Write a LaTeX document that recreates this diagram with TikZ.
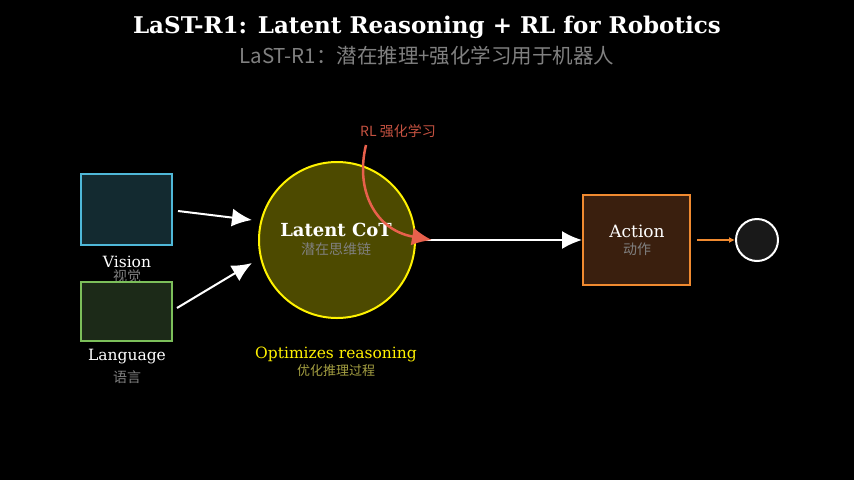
\documentclass[tikz,border=0pt]{standalone}
\usepackage{fontspec}
\usetikzlibrary{arrows.meta}
\setmainfont{DejaVu Serif}
\newfontfamily\cjk{Noto Sans CJK SC}
\definecolor{visfill}{HTML}{132A30}
\definecolor{visdraw}{HTML}{4FB8D8}
\definecolor{lanfill}{HTML}{1C2A18}
\definecolor{landraw}{HTML}{7CBF5A}
\definecolor{cotfill}{HTML}{4D4A00}
\definecolor{actfill}{HTML}{3A1F0E}
\definecolor{actdraw}{HTML}{F08A30}
\definecolor{rlred}{HTML}{E8604C}
\tikzset{
  box/.style={rectangle, line width=2pt, inner sep=0pt, anchor=center},
  annot/.style={align=center, text=white, font=\fontsize{15.5}{17}\selectfont},
  sub/.style={align=center, text=gray, font=\cjk\fontsize{14}{16}\selectfont},
  flow/.style={draw=white, line width=2pt, -{Latex[length=20pt,width=18pt]}}
}
\begin{document}
\begin{tikzpicture}[x=1pt,y=-1pt]
	\fill[black] (0,0) rectangle (854,480);
	\useasboundingbox (0,0) rectangle (854,480);

	\node[annot, font=\bfseries\fontsize{23}{25}\selectfont] (title) at (427,27) {LaST-R1: Latent Reasoning + RL for Robotics};
	\node[sub, font=\cjk\fontsize{20.5}{22}\selectfont] (subtitle) at (427,56) {LaST-R1：潜在推理+强化学习用于机器人};

	% inputs
	\node[box, fill=visfill, draw=visdraw, minimum width=91pt, minimum height=71pt] (vision) at (126.5,209.5) {};
	\node[annot] (visionlbl) at (127,262) {Vision};
	\node[sub] at (127,276) {视觉};
	\node[box, fill=lanfill, draw=landraw, minimum width=91pt, minimum height=59pt] (language) at (126.5,311.5) {};
	\node[annot] (languagelbl) at (127,357) {Language};
	\node[sub] at (127,377) {语言};

	% latent reasoning
	\node[circle, line width=2pt, fill=cotfill, draw=yellow, minimum size=156pt, inner sep=0pt] (cot) at (337,240) {};
	\node[annot, font=\bfseries\fontsize{18}{20}\selectfont] at (336,230) {Latent CoT};
	\node[sub] at (336,249) {潜在思维链};
	\node[annot, text=yellow, font=\fontsize{15.5}{17}\selectfont] at (336,354) {Optimizes reasoning};
	\node[sub, text=yellow!60!black, font=\cjk\fontsize{13}{15}\selectfont] at (336,371) {优化推理过程};

	% action
	\node[box, fill=actfill, draw=actdraw, minimum width=107pt, minimum height=90pt] (action) at (636.5,240) {};
	\node[annot, font=\fontsize{17}{19}\selectfont] at (637,231) {Action};
	\node[sub] at (637,249) {动作};
	\node[circle, line width=2pt, fill=black!90!white, draw=white, minimum size=42pt, inner sep=0pt] (out) at (757,240) {};

	\coordinate (rl) at (366,145);
	\node[sub, text=rlred!85!black] at (398,131) {RL 强化学习};

	\draw[flow] (178,211) -- (252,220);
	\draw[flow] (177,308) -- (252,263);
	\draw[flow] (cot.east) -- (action.west);
	\draw[draw=rlred, line width=2.5pt, -{Latex[length=20pt,width=18pt]}] (rl) .. controls (355,190) and (375,230) .. (432,240);
	\draw[draw=actdraw, line width=1.5pt, -{Latex[length=6pt,width=6pt]}] (697,240) -- (out.west);
\end{tikzpicture}
\end{document}
